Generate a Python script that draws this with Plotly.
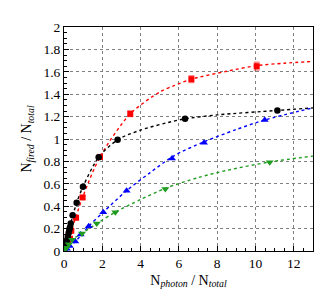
import plotly.graph_objects as go

# measured points
red_x = [0.10, 0.20, 0.31, 0.38, 0.63, 0.97, 1.88, 3.46, 6.65, 10.06]
red_y = [0.04, 0.07, 0.11, 0.18, 0.297, 0.478, 0.84, 1.225, 1.534, 1.65]
red_err = [0.005, 0.005, 0.008, 0.01, 0.012, 0.015, 0.02, 0.025, 0.03, 0.035]

black_x = [0.06, 0.09, 0.12, 0.16, 0.20, 0.24, 0.28, 0.31, 0.35, 0.45, 0.66, 0.99, 1.81, 2.8, 6.32, 11.14]
black_y = [0.03, 0.05, 0.07, 0.10, 0.13, 0.16, 0.19, 0.21, 0.245, 0.32, 0.43, 0.574, 0.838, 0.993, 1.18, 1.255]

blue_x = [0.05, 0.15, 0.30, 0.59, 0.87, 1.29, 2.05, 3.27, 5.64, 7.31, 10.48]
blue_y = [0.005, 0.02, 0.045, 0.085, 0.148, 0.221, 0.347, 0.539, 0.827, 0.967, 1.17]

green_x = [0.05, 0.12, 0.25, 0.42, 0.94, 1.71, 2.68, 5.29, 10.74]
green_y = [0.01, 0.03, 0.06, 0.10, 0.157, 0.245, 0.347, 0.553, 0.792]

# fit curves
fit_red_x = [0, 0.38, 0.97, 1.88, 3.46, 5.0, 5.74, 6.65, 8.5, 10.06, 11.5, 13]
fit_red_y = [0, 0.18, 0.478, 0.84, 1.225, 1.42, 1.476, 1.534, 1.605, 1.655, 1.677, 1.692]

fit_black_x = [0, 0.35, 0.66, 0.99, 1.81, 2.8, 4.0, 5.74, 6.32, 8.0, 11.14, 13]
fit_black_y = [0, 0.245, 0.43, 0.574, 0.838, 0.993, 1.08, 1.16, 1.18, 1.215, 1.255, 1.278]

fit_blue_x = [0, 0.59, 1.29, 2.05, 3.27, 4.5, 5.74, 7.31, 9.0, 10.48, 13]
fit_blue_y = [0, 0.085, 0.221, 0.347, 0.539, 0.70, 0.85, 0.975, 1.085, 1.17, 1.278]

fit_green_x = [0, 0.42, 0.94, 1.71, 2.68, 4.0, 5.29, 7.0, 8.5, 10.74, 13]
fit_green_y = [0, 0.10, 0.157, 0.245, 0.347, 0.46, 0.56, 0.655, 0.72, 0.795, 0.847]

x_ticks = [0, 2, 4, 6, 8, 10, 12]
y_ticks = [0, 0.2, 0.4, 0.6, 0.8, 1, 1.2, 1.4, 1.6, 1.8, 2]
y_tick_text = ["0", "0.2", "0.4", "0.6", "0.8", "1", "1.2", "1.4", "1.6", "1.8", "2"]

RED = "#ff0000"
BLACK = "#000000"
BLUE = "#0000ff"
GREEN = "#1f9c1f"

fig = go.Figure()
for fx, fy, c in [(fit_red_x, fit_red_y, RED), (fit_black_x, fit_black_y, BLACK),
                  (fit_blue_x, fit_blue_y, BLUE), (fit_green_x, fit_green_y, GREEN)]:
    fig.add_trace(go.Scatter(x=fx, y=fy, mode="lines",
                             line=dict(color=c, width=1.4, dash="dot", shape="spline", smoothing=0.8),
                             showlegend=False, hoverinfo="skip"))

fig.add_trace(go.Scatter(x=red_x, y=red_y, mode="markers",
                         marker=dict(symbol="square", size=6, color=RED),
                         error_y=dict(type="data", array=red_err, color="rgba(255,0,0,0.45)", thickness=1.5, width=3),
                         showlegend=False))
fig.add_trace(go.Scatter(x=black_x, y=black_y, mode="markers",
                         marker=dict(symbol="circle", size=6.5, color=BLACK), showlegend=False))
fig.add_trace(go.Scatter(x=blue_x, y=blue_y, mode="markers",
                         marker=dict(symbol="triangle-up", size=7, color=BLUE), showlegend=False))
fig.add_trace(go.Scatter(x=green_x, y=green_y, mode="markers",
                         marker=dict(symbol="triangle-down", size=7, color=GREEN), showlegend=False))

font = "Liberation Serif, Times New Roman, serif"
fig.update_layout(
    width=332, height=290,
    margin=dict(l=56, r=27, t=14, b=47),
    paper_bgcolor="white", plot_bgcolor="white",
    font=dict(family=font, size=13, color="black"),
)
fig.update_xaxes(
    range=[0, 13], tickvals=x_ticks, ticks="inside", ticklen=5, tickcolor="black",
    showline=True, linecolor="black", linewidth=1, mirror=True,
    showgrid=True, gridcolor="#808080", griddash="dot", gridwidth=1, zeroline=False,
    minor=dict(dtick=0.5, ticks="inside", ticklen=3, tickcolor="black", showgrid=False),
    tickfont=dict(family=font, size=13.5),
    title=dict(text="N<sub><i>photon</i></sub> / N<sub><i>total</i></sub>",
               font=dict(family=font, size=14), standoff=4),
)
fig.update_yaxes(
    range=[0, 2], tickvals=y_ticks, ticktext=y_tick_text, ticks="inside", ticklen=5, tickcolor="black",
    showline=True, linecolor="black", linewidth=1, mirror=True,
    showgrid=True, gridcolor="#808080", griddash="dot", gridwidth=1, zeroline=False,
    minor=dict(dtick=0.05, ticks="inside", ticklen=3, tickcolor="black", showgrid=False),
    tickfont=dict(family=font, size=13.5),
    title=dict(text="N<sub><i>fired</i></sub> / N<sub><i>total</i></sub>",
               font=dict(family=font, size=14), standoff=8),
)

fig.write_html("out.html")
